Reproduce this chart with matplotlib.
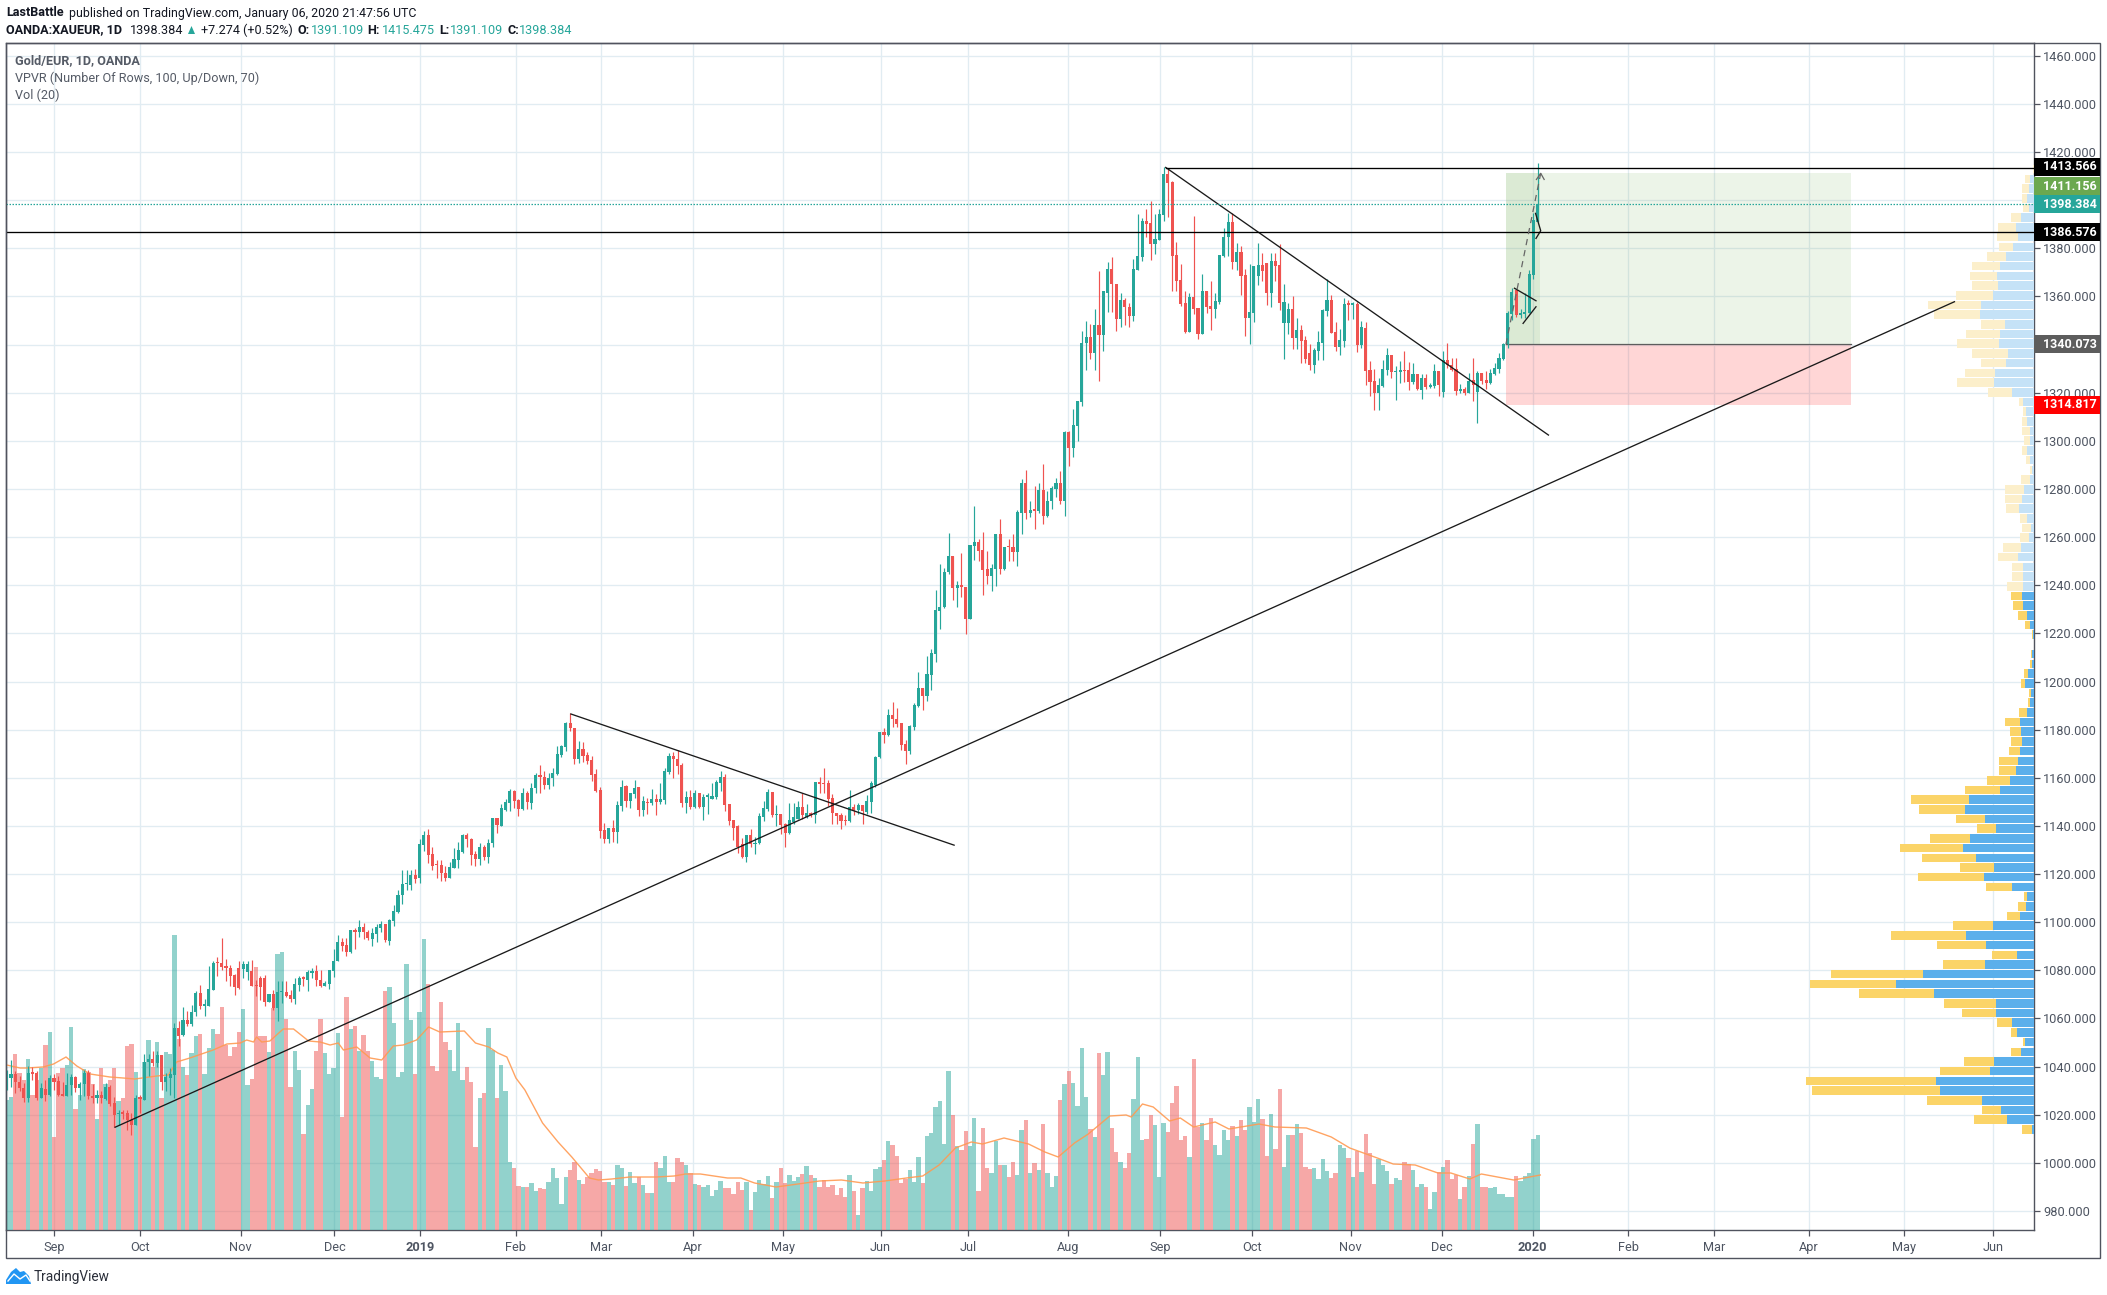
import matplotlib
matplotlib.use("Agg")
import matplotlib.pyplot as plt
import numpy as np
from matplotlib.patches import Polygon, Rectangle

W, H = 2107, 1295
UP = "#26A69A"
DOWN = "#EF5350"
FRAME = "#50535E"
GRID = "#E1ECF2"
TEXT = "#4E5562"

# daily bars
DIRS = "".join([
    "GGRRRGRRGR", "GRRRGGRGGR", "RGRGRRGRRR", "GRGGRGRGGG", "RGRGGRGGGR",
    "RRRRRGGRRR", "RGRGGRRGGR", "GGRRGGGGRR", "GRGRRGGGRG", "GGGGGRGGRR",
    "RRRGGGGRRR", "GRGGRGGGRR", "GRGGRRGGGG", "GRRGRRRRRR", "GRGGRGGRGR",
    "GRGGGRRRGR", "GRGGGGGRRR", "RRGRGGGGRG", "RRGGGRGRGR", "RRRRRRGRGR",
    "GGGGRGRRRR", "GGGRGGGGGG", "RGRRGGRRRG", "GRGRRGGGRG"[:0] + "GRGRRGGRGR", "GRGGGRGRGG",
    "GGRGRGGRRG", "RRGGGRRGGG", "RRRRRGRRGR", "RGGGGRGRRG", "GGRRGRRGGR",
    "GRRRGGGGRR", "GGRGRGRRRG", "GGRGGRRGRG", "RGGRGRRRGR", "GRGRRGGGGG",
    "GRGGGGG",
])

BODY_TOP = [
    1035.9, 1037.0, 1037.0, 1033.7, 1031.2, 1037.3, 1037.6, 1037.3, 1030.9, 1030.8,
    1035.2, 1035.2, 1034.0, 1028.6, 1032.5, 1035.8, 1035.6, 1032.9, 1037.3, 1037.3,
    1027.9, 1028.2, 1028.2, 1031.6, 1031.5, 1024.8, 1020.8, 1021.0, 1020.7, 1017.6,
    1026.9, 1027.2, 1041.9, 1043.3, 1043.3, 1044.8, 1044.9, 1035.5, 1037.0, 1056.1,
    1056.1, 1059.5, 1059.5, 1062.6, 1070.5, 1070.5, 1065.8, 1072.2, 1083.1, 1083.1,
    1083.1, 1081.9, 1081.1, 1078.2, 1081.1, 1082.7, 1082.7, 1079.8, 1074.0, 1076.9,
    1076.9, 1070.3, 1070.3, 1071.1, 1071.1, 1071.1, 1069.9, 1074.4, 1076.8, 1077.1,
    1079.5, 1079.8, 1079.8, 1076.1, 1074.7, 1080.0, 1084.0, 1091.9, 1091.9, 1090.6,
    1096.9, 1096.9, 1098.0, 1098.0, 1096.0, 1095.5, 1098.0, 1099.4, 1099.4, 1101.0,
    1104.8, 1111.4, 1116.0, 1116.0, 1119.7, 1119.7, 1132.4, 1136.1, 1136.1, 1128.2,
    1123.8, 1123.6, 1120.6, 1123.1, 1126.1, 1129.9, 1136.1, 1136.1, 1134.7, 1128.2,
    1131.4, 1131.4, 1133.0, 1143.2, 1143.2, 1147.3, 1149.9, 1154.5, 1154.5, 1150.6,
    1153.5, 1153.5, 1155.9, 1161.0, 1161.0, 1160.5, 1160.0, 1161.9, 1169.7, 1173.2,
    1182.6, 1182.6, 1180.8, 1172.1, 1172.1, 1169.3, 1167.3, 1161.4, 1154.8, 1138.2,
    1139.3, 1139.3, 1148.6, 1156.3, 1156.6, 1153.5, 1155.9, 1156.0, 1150.4, 1150.1,
    1151.0, 1151.0, 1151.0, 1162.7, 1169.0, 1169.0, 1167.9, 1165.2, 1152.2, 1152.2,
    1153.5, 1153.5, 1151.9, 1152.4, 1152.4, 1158.3, 1160.5, 1160.5, 1149.0, 1142.3,
    1140.0, 1132.4, 1136.1, 1136.1, 1133.0, 1144.0, 1147.3, 1154.1, 1154.1, 1144.8,
    1144.8, 1140.7, 1142.3, 1143.7, 1147.9, 1147.9, 1145.2, 1145.2, 1158.3, 1158.3,
    1157.7, 1157.7, 1151.7, 1145.2, 1144.4, 1142.3, 1148.0, 1148.0, 1148.6, 1148.6,
    1150.2, 1157.7, 1168.8, 1179.0, 1179.0, 1186.0, 1186.0, 1184.5, 1182.7, 1174.1,
    1181.6, 1190.3, 1197.4, 1197.4, 1203.2, 1211.8, 1229.8, 1231.0, 1245.6, 1252.2,
    1252.2, 1240.2, 1240.2, 1239.4, 1256.8, 1258.0, 1258.0, 1254.7, 1246.8, 1247.1,
    1261.4, 1261.4, 1256.0, 1256.0, 1256.0, 1270.5, 1282.5, 1282.5, 1271.3, 1271.3,
    1279.6, 1279.6, 1275.0, 1280.5, 1282.5, 1282.5, 1303.7, 1303.7, 1306.6, 1316.5,
    1340.8, 1343.3, 1343.3, 1348.0, 1348.0, 1362.1, 1371.2, 1371.2, 1365.3, 1358.4,
    1358.4, 1355.7, 1371.2, 1376.6, 1391.2, 1391.2, 1390.4, 1383.7, 1394.1, 1410.7,
    1410.7, 1407.5, 1377.1, 1366.7, 1357.1, 1359.7, 1359.7, 1355.0, 1362.1, 1362.1,
    1356.0, 1358.1, 1377.1, 1384.9, 1390.8, 1390.8, 1378.3, 1378.3, 1368.7, 1353.4,
    1372.6, 1372.9, 1373.0, 1373.9, 1374.6, 1374.6, 1372.9, 1357.5, 1354.6, 1354.6,
    1345.9, 1345.9, 1341.7, 1336.6, 1337.6, 1341.0, 1354.3, 1358.4, 1358.4, 1345.1,
    1341.7, 1356.7, 1356.8, 1356.8, 1356.8, 1347.3, 1347.0, 1329.3, 1324.7, 1323.0,
    1329.7, 1335.5, 1335.5, 1329.0, 1329.3, 1329.3, 1329.3, 1327.6, 1327.6, 1326.0,
    1326.0, 1323.0, 1328.9, 1328.9, 1333.4, 1333.4, 1331.6, 1329.7, 1321.4, 1321.4,
    1324.8, 1325.1, 1328.0, 1328.0, 1325.3, 1328.0, 1330.1, 1334.5, 1340.1, 1353.1,
    1362.0, 1362.5, 1353.2, 1353.6, 1369.2, 1391.6, 1398.4,
]

BODY_BOT = [
    1031.8, 1035.4, 1033.4, 1030.9, 1026.8, 1026.8, 1037.0, 1026.8, 1026.8, 1028.3,
    1028.3, 1033.7, 1028.2, 1027.9, 1027.9, 1032.3, 1030.9, 1030.9, 1032.9, 1027.6,
    1026.8, 1026.8, 1026.8, 1026.5, 1024.6, 1020.0, 1020.1, 1020.4, 1017.6, 1015.8,
    1015.8, 1026.5, 1026.2, 1041.7, 1041.5, 1041.5, 1033.8, 1033.6, 1035.1, 1036.6,
    1052.8, 1053.0, 1057.8, 1057.7, 1062.5, 1065.0, 1065.0, 1065.3, 1071.9, 1083.0,
    1081.4, 1080.8, 1077.8, 1073.2, 1072.8, 1080.7, 1079.5, 1073.6, 1073.6, 1073.2,
    1066.9, 1066.9, 1064.3, 1064.3, 1071.0, 1069.4, 1068.2, 1068.2, 1074.0, 1076.4,
    1076.1, 1078.9, 1075.8, 1073.6, 1073.6, 1074.4, 1079.7, 1083.7, 1090.2, 1087.7,
    1087.6, 1095.8, 1095.8, 1095.8, 1093.3, 1093.1, 1095.2, 1097.7, 1092.4, 1092.3,
    1100.6, 1104.3, 1111.1, 1115.8, 1115.6, 1118.1, 1118.2, 1131.9, 1127.8, 1123.4,
    1123.6, 1120.3, 1118.5, 1118.5, 1122.7, 1125.8, 1129.3, 1134.4, 1127.9, 1126.1,
    1126.1, 1127.1, 1127.1, 1133.0, 1140.2, 1140.1, 1146.6, 1149.7, 1150.4, 1146.9,
    1146.9, 1149.9, 1149.7, 1155.9, 1160.3, 1156.9, 1156.9, 1159.9, 1161.4, 1169.3,
    1172.9, 1180.6, 1167.7, 1167.7, 1169.0, 1167.0, 1161.2, 1154.5, 1137.9, 1134.4,
    1134.4, 1137.5, 1137.5, 1148.3, 1150.4, 1150.4, 1153.1, 1146.6, 1146.6, 1149.5,
    1149.4, 1149.9, 1149.9, 1150.6, 1162.4, 1167.9, 1164.9, 1149.4, 1149.4, 1148.0,
    1148.0, 1148.0, 1148.0, 1152.2, 1151.3, 1152.2, 1158.0, 1148.6, 1142.0, 1139.3,
    1131.2, 1127.2, 1127.2, 1132.4, 1132.6, 1132.8, 1143.7, 1146.9, 1144.4, 1144.5,
    1140.2, 1137.2, 1137.2, 1141.6, 1143.0, 1144.4, 1143.9, 1144.7, 1144.7, 1157.3,
    1157.4, 1151.3, 1145.2, 1144.1, 1142.0, 1142.0, 1141.9, 1146.2, 1146.5, 1146.2,
    1145.9, 1149.9, 1157.0, 1168.6, 1177.8, 1177.6, 1184.3, 1182.4, 1173.7, 1171.3,
    1171.2, 1181.3, 1189.9, 1194.1, 1193.8, 1202.8, 1211.5, 1229.5, 1230.8, 1245.3,
    1238.9, 1238.9, 1239.1, 1226.1, 1226.1, 1256.4, 1254.3, 1246.5, 1243.9, 1243.9,
    1246.8, 1246.7, 1246.7, 1255.7, 1253.9, 1253.9, 1270.2, 1270.2, 1270.2, 1271.0,
    1271.0, 1268.8, 1268.8, 1274.8, 1280.0, 1275.0, 1275.0, 1297.1, 1297.1, 1306.2,
    1316.1, 1340.8, 1336.3, 1336.3, 1344.0, 1344.0, 1361.5, 1365.3, 1350.5, 1350.5,
    1355.6, 1351.9, 1351.9, 1371.0, 1376.4, 1390.2, 1381.8, 1381.8, 1383.4, 1393.8,
    1407.3, 1376.8, 1366.4, 1356.8, 1345.1, 1345.1, 1354.6, 1344.2, 1344.2, 1355.7,
    1354.6, 1354.6, 1357.7, 1376.8, 1384.5, 1374.3, 1374.3, 1368.5, 1350.9, 1350.9,
    1353.2, 1368.5, 1370.4, 1361.3, 1361.5, 1372.6, 1357.1, 1348.8, 1348.8, 1342.6,
    1342.6, 1341.3, 1334.1, 1331.4, 1331.5, 1337.2, 1340.8, 1353.9, 1344.6, 1339.0,
    1339.0, 1341.5, 1356.6, 1356.6, 1339.8, 1339.7, 1329.0, 1324.4, 1319.9, 1319.9,
    1322.8, 1329.4, 1328.6, 1328.7, 1328.7, 1329.0, 1324.4, 1324.4, 1321.4, 1321.1,
    1322.2, 1322.2, 1322.8, 1323.0, 1320.3, 1331.6, 1329.4, 1320.7, 1320.7, 1320.0,
    1319.7, 1323.3, 1320.3, 1324.8, 1323.9, 1323.9, 1327.6, 1329.7, 1334.1, 1339.8,
    1352.8, 1352.1, 1352.3, 1352.9, 1353.2, 1368.9, 1391.1,
]

HIGHS = [
    1038.7, 1042.6, 1038.3, 1035.9, 1033.1, 1040.1, 1039.8, 1038.0, 1033.1, 1034.5,
    1036.6, 1037.0, 1035.9, 1033.6, 1037.3, 1037.0, 1035.9, 1033.8, 1038.7, 1038.7,
    1032.9, 1030.4, 1029.8, 1033.1, 1032.5, 1027.3, 1022.0, 1022.0, 1022.0, 1020.7,
    1028.3, 1028.3, 1045.2, 1045.3, 1046.6, 1046.3, 1044.9, 1037.3, 1039.4, 1058.1,
    1059.0, 1064.7, 1063.3, 1065.7, 1071.6, 1074.0, 1068.1, 1081.9, 1083.7, 1085.5,
    1093.4, 1084.8, 1082.3, 1078.6, 1083.7, 1083.7, 1083.7, 1084.4, 1076.1, 1077.7,
    1078.0, 1070.3, 1071.9, 1075.4, 1075.4, 1075.4, 1071.9, 1076.8, 1077.7, 1077.7,
    1080.0, 1080.9, 1082.3, 1080.0, 1075.4, 1080.2, 1089.0, 1094.8, 1093.4, 1093.4,
    1096.9, 1097.6, 1100.7, 1099.6, 1096.9, 1097.6, 1099.1, 1100.3, 1099.4, 1101.3,
    1107.2, 1113.2, 1121.8, 1121.8, 1121.8, 1122.1, 1134.4, 1137.9, 1138.9, 1131.4,
    1125.8, 1125.8, 1123.4, 1125.0, 1131.0, 1133.5, 1136.5, 1136.9, 1135.1, 1129.6,
    1132.8, 1132.1, 1134.4, 1143.4, 1143.2, 1149.0, 1151.0, 1155.2, 1154.9, 1151.0,
    1155.9, 1154.5, 1157.7, 1161.9, 1165.2, 1162.8, 1161.9, 1164.2, 1173.2, 1173.5,
    1183.2, 1186.8, 1180.8, 1175.3, 1174.9, 1170.7, 1169.0, 1163.8, 1156.3, 1141.4,
    1139.3, 1142.5, 1150.4, 1159.1, 1156.9, 1153.5, 1158.9, 1156.3, 1152.4, 1151.7,
    1155.2, 1153.1, 1158.0, 1164.2, 1170.2, 1170.7, 1171.5, 1166.0, 1154.5, 1154.9,
    1154.9, 1153.8, 1153.1, 1153.5, 1158.0, 1159.1, 1162.7, 1161.4, 1149.0, 1142.3,
    1140.2, 1135.1, 1136.1, 1138.9, 1135.5, 1145.2, 1150.4, 1155.2, 1154.1, 1148.6,
    1144.8, 1141.1, 1149.4, 1149.4, 1150.4, 1153.8, 1149.2, 1145.8, 1158.3, 1160.2,
    1163.9, 1159.1, 1153.1, 1145.5, 1145.5, 1144.4, 1154.9, 1149.1, 1149.7, 1148.8,
    1152.8, 1158.7, 1169.0, 1179.0, 1180.8, 1188.4, 1191.5, 1188.9, 1182.7, 1175.8,
    1181.9, 1191.0, 1204.0, 1197.4, 1210.7, 1213.5, 1238.1, 1248.9, 1247.1, 1261.8,
    1252.2, 1241.8, 1253.3, 1239.4, 1256.8, 1273.0, 1259.2, 1262.2, 1254.3, 1248.9,
    1261.4, 1267.6, 1256.0, 1259.3, 1261.4, 1271.3, 1284.2, 1287.9, 1275.0, 1281.3,
    1282.5, 1290.4, 1279.2, 1281.3, 1284.6, 1287.5, 1304.1, 1304.1, 1313.3, 1316.7,
    1345.6, 1349.8, 1348.4, 1354.6, 1370.5, 1362.1, 1374.3, 1376.5, 1365.3, 1361.5,
    1359.2, 1357.1, 1375.4, 1394.1, 1392.7, 1396.2, 1399.6, 1394.1, 1396.4, 1413.9,
    1413.1, 1407.9, 1382.6, 1373.3, 1362.2, 1361.5, 1393.4, 1355.0, 1369.2, 1362.1,
    1366.4, 1361.5, 1377.1, 1388.6, 1394.5, 1394.8, 1382.0, 1380.9, 1371.2, 1373.3,
    1372.6, 1382.3, 1378.2, 1374.0, 1378.2, 1378.2, 1381.6, 1365.3, 1357.4, 1360.2,
    1351.2, 1348.0, 1343.5, 1340.1, 1338.7, 1345.6, 1354.6, 1367.4, 1360.4, 1349.5,
    1346.3, 1359.5, 1358.5, 1357.7, 1357.7, 1349.8, 1349.5, 1333.2, 1329.7, 1326.2,
    1333.6, 1338.7, 1335.5, 1331.1, 1333.2, 1337.3, 1332.7, 1332.2, 1327.6, 1327.6,
    1327.6, 1324.1, 1331.8, 1328.9, 1337.3, 1340.5, 1334.5, 1334.5, 1323.5, 1322.5,
    1328.0, 1334.5, 1329.0, 1328.0, 1329.0, 1329.7, 1332.5, 1336.6, 1340.8, 1353.9,
    1363.6, 1362.5, 1354.6, 1361.5, 1371.0, 1394.8, 1415.5,
]

LOWS = [
    1030.4, 1031.5, 1029.0, 1029.7, 1025.1, 1025.1, 1034.3, 1026.0, 1026.8, 1025.5,
    1027.6, 1030.1, 1027.9, 1027.6, 1027.9, 1028.3, 1029.3, 1026.2, 1027.9, 1026.5,
    1024.8, 1024.8, 1024.8, 1026.0, 1023.5, 1015.1, 1015.8, 1018.2, 1013.8, 1011.7,
    1015.8, 1020.7, 1026.2, 1035.9, 1040.1, 1039.8, 1030.4, 1029.7, 1028.3, 1026.9,
    1048.7, 1052.5, 1056.7, 1056.7, 1060.9, 1063.9, 1061.1, 1065.3, 1071.9, 1077.8,
    1080.0, 1075.7, 1073.6, 1069.9, 1072.2, 1076.6, 1076.1, 1073.6, 1069.4, 1067.8,
    1065.3, 1066.9, 1063.6, 1059.0, 1066.4, 1068.9, 1066.7, 1066.1, 1071.2, 1073.3,
    1071.2, 1076.8, 1073.3, 1073.0, 1073.3, 1072.2, 1077.2, 1083.7, 1088.1, 1086.0,
    1087.2, 1089.0, 1093.8, 1093.0, 1092.7, 1089.9, 1091.6, 1095.8, 1091.6, 1090.6,
    1098.5, 1104.0, 1107.7, 1113.2, 1113.5, 1116.3, 1116.4, 1129.6, 1124.7, 1121.7,
    1118.5, 1117.1, 1117.1, 1118.2, 1122.7, 1122.4, 1128.9, 1131.4, 1123.6, 1123.4,
    1123.6, 1125.7, 1124.7, 1131.2, 1136.9, 1140.0, 1146.2, 1146.2, 1147.3, 1144.1,
    1146.6, 1146.9, 1147.2, 1153.5, 1153.5, 1155.2, 1155.5, 1156.6, 1161.0, 1168.6,
    1171.1, 1179.4, 1165.6, 1166.3, 1166.6, 1165.6, 1158.7, 1154.1, 1135.1, 1132.8,
    1132.8, 1133.3, 1132.8, 1146.2, 1148.0, 1147.3, 1151.7, 1144.1, 1144.1, 1145.1,
    1148.6, 1144.4, 1149.0, 1149.0, 1161.4, 1160.0, 1161.7, 1148.0, 1145.5, 1146.9,
    1147.6, 1147.6, 1142.5, 1144.8, 1151.3, 1151.3, 1154.5, 1146.2, 1140.2, 1134.2,
    1128.9, 1126.8, 1125.0, 1131.4, 1128.2, 1132.4, 1142.0, 1146.2, 1143.9, 1140.0,
    1136.8, 1131.2, 1136.5, 1140.7, 1143.0, 1143.0, 1143.4, 1143.9, 1141.1, 1153.5,
    1153.5, 1148.3, 1140.9, 1140.7, 1138.6, 1140.2, 1141.6, 1144.4, 1144.8, 1140.7,
    1144.8, 1145.2, 1156.3, 1168.4, 1174.3, 1177.4, 1181.2, 1181.0, 1171.6, 1165.8,
    1170.0, 1179.9, 1189.6, 1188.2, 1192.1, 1196.6, 1208.3, 1221.9, 1230.5, 1244.8,
    1233.7, 1230.8, 1235.3, 1219.8, 1226.1, 1250.6, 1249.9, 1236.0, 1240.6, 1237.4,
    1239.8, 1244.8, 1246.4, 1250.2, 1250.2, 1248.1, 1261.4, 1267.6, 1268.5, 1263.5,
    1270.2, 1265.5, 1268.5, 1271.7, 1276.7, 1273.8, 1268.8, 1289.6, 1293.3, 1300.0,
    1314.5, 1329.4, 1333.8, 1329.4, 1324.8, 1337.3, 1353.5, 1353.5, 1345.6, 1347.3,
    1348.1, 1347.4, 1349.8, 1371.0, 1374.7, 1384.8, 1375.1, 1377.5, 1383.4, 1391.3,
    1393.0, 1362.2, 1362.2, 1356.0, 1344.6, 1345.1, 1352.5, 1342.2, 1344.2, 1353.2,
    1345.9, 1351.2, 1356.7, 1376.5, 1376.8, 1371.5, 1371.0, 1360.6, 1343.6, 1340.4,
    1349.4, 1364.6, 1366.4, 1356.3, 1355.7, 1366.3, 1354.3, 1334.1, 1344.5, 1338.3,
    1338.3, 1332.2, 1332.2, 1329.4, 1328.0, 1333.6, 1333.6, 1351.9, 1344.6, 1337.3,
    1335.5, 1339.1, 1350.2, 1350.5, 1337.0, 1338.7, 1323.0, 1318.6, 1312.7, 1312.7,
    1322.5, 1327.2, 1326.1, 1316.9, 1324.1, 1324.4, 1321.1, 1323.5, 1321.1, 1317.2,
    1321.4, 1322.1, 1322.1, 1318.6, 1318.2, 1330.4, 1329.0, 1318.9, 1319.7, 1318.9,
    1319.7, 1316.5, 1307.5, 1323.5, 1321.7, 1323.5, 1327.2, 1328.0, 1333.6, 1338.4,
    1350.2, 1351.6, 1351.2, 1351.2, 1353.0, 1367.4, 1391.1,
]

VOLUMES = [
    130, 133, 176, 157, 150, 171, 135, 150, 162, 185,
    198, 93, 157, 162, 165, 203, 121, 135, 161, 158,
    146, 111, 162, 146, 150, 162, 129, 132, 184, 186,
    158, 131, 168, 190, 163, 188, 132, 178, 176, 295,
    191, 163, 155, 177, 194, 196, 156, 182, 201, 196,
    223, 185, 174, 183, 198, 221, 145, 151, 263, 194,
    194, 178, 222, 276, 278, 211, 143, 179, 160, 96,
    125, 141, 179, 211, 177, 156, 162, 197, 113, 233,
    201, 204, 179, 195, 179, 169, 153, 151, 239, 243,
    207, 153, 158, 266, 210, 156, 218, 291, 246, 164,
    159, 228, 188, 180, 159, 207, 150, 163, 148, 83,
    132, 137, 202, 180, 132, 165, 139, 68, 62, 44,
    43, 43, 47, 39, 42, 41, 48, 62, 52, 26,
    53, 60, 68, 50, 46, 53, 57, 61, 59, 48,
    48, 45, 65, 62, 44, 58, 47, 53, 45, 37,
    37, 68, 62, 74, 48, 48, 72, 68, 65, 57,
    46, 45, 43, 45, 34, 40, 49, 42, 42, 36,
    48, 40, 48, 20, 38, 50, 46, 54, 32, 48,
    62, 47, 55, 49, 53, 56, 64, 55, 52, 43,
    50, 43, 45, 35, 42, 33, 55, 39, 15, 42,
    49, 39, 61, 63, 70, 89, 85, 74, 47, 51,
    60, 48, 73, 47, 94, 97, 123, 129, 86, 159,
    115, 84, 80, 99, 84, 112, 39, 102, 62, 57,
    89, 65, 65, 53, 68, 55, 100, 110, 57, 67,
    60, 106, 57, 43, 54, 130, 146, 159, 147, 124,
    182, 133, 101, 93, 177, 155, 178, 102, 78, 68,
    62, 77, 131, 173, 90, 91, 115, 105, 53, 107,
    98, 127, 144, 90, 94, 73, 171, 103, 107, 90,
    112, 85, 75, 100, 90, 104, 94, 110, 100, 123,
    108, 131, 111, 74, 116, 81, 141, 63, 95, 95,
    106, 97, 63, 61, 62, 51, 71, 59, 52, 57,
    85, 82, 72, 53, 79, 58, 96, 77, 46, 71,
    65, 59, 46, 52, 50, 68, 66, 60, 43, 46,
    43, 21, 38, 58, 63, 70, 51, 55, 31, 43,
    54, 86, 106, 43, 43, 42, 43, 36, 36, 33,
    33, 54, 49, 54, 57, 91, 95,
]

# Vol (20) line, read at its turning points
MA_BARS = [
    0, 3.1, 4.6, 8.5, 10.9, 13.8, 16.3, 19.4, 24, 27.1, 29.8, 34.9, 37.6, 39.5, 42.6,
    48, 51.2, 54.3, 55.8, 57.4, 58.1, 59.3, 61.2, 64.3, 66.7, 70.2, 72.9, 75.2, 77.1,
    78.3, 81.4, 84.5, 87.2, 89.9, 92.2, 95.3, 98.1, 100.7, 106.4, 109, 112.1, 114.2,
    116.3, 118.4, 120.5, 124.6, 128.2, 131.4, 135.5, 137.6, 140.7, 144.9, 148, 151.1,
    155.2, 157.8, 161.3, 167.6, 170.7, 173.9, 178.9, 184, 189, 194.1, 199.1, 204.2,
    209.2, 213, 216.8, 220.6, 224.3, 226.9, 231.9, 237.6, 241.4, 244.5, 248.3, 251.5,
    256.5, 260.3, 261.5, 264.1, 266.6, 270.4, 272.9, 276, 281, 284.2, 291.2, 294.9,
    302.2, 308, 312.3, 318.7, 322.4, 327.5, 332.8, 335.8, 340.2, 342.9, 350.4, 356.6,
]
MA_VALUES = [
    165, 162, 162, 163, 166, 173, 164, 156, 153, 152, 151, 154, 155, 168, 172,
    180, 186, 187, 190, 188, 193, 188, 189, 201, 201, 189, 188, 185, 187,
    180, 183, 172, 170, 184, 185, 190, 203, 198, 199, 187, 183, 177,
    173, 152, 140, 107, 88, 73, 52, 50, 51, 53, 53, 53,
    54, 56, 56, 52, 52, 47, 43, 46, 49, 50, 47, 49,
    52, 54, 65, 82, 88, 86, 92, 86, 78, 73, 87, 96,
    114, 115, 113, 126, 123, 109, 112, 103, 108, 101, 106, 103,
    102, 93, 82, 72, 66, 65, 57, 57, 51, 56, 50, 55,
]

# visible range volume profile, rows from the bottom up
VP_UP = [
    2.3, 27.3, 32.7, 51.7, 94.3, 98.3, 44.3, 40, 13.3, 9.3,
    17.3, 22.3, 38.3, 38.3, 100, 138.3, 110.7, 49, 17.3, 47.7,
    68.3, 41, 14.3, 8.3, 6.7, 21.7, 50, 40, 58.3, 71.3,
    64.3, 37.7, 49, 69.3, 64.7, 33.7, 24.3, 18.3, 15.7, 14,
    11.7, 13.3, 14.3, 6.7, 4, 2.7, 9.3, 6.3, 2.3, 1.7,
    0, 1, 4.3, 7.3, 11.3, 12.3, 11.3, 10.7, 11, 16.3,
    12.7, 5.3, 3.3, 7.3, 15, 12.3, 10.3, 4.3, 1.7, 4.3,
    6.7, 4.3, 4.3, 6.8, 8, 11.2, 22.4, 40.4, 38.8, 28,
    26.4, 35.2, 34, 28.8, 54.4, 52.8, 40.8, 35.6, 36.8, 34,
    28, 20.8, 16, 18, 12.8, 4.8, 7.2, 5.2, 4.4, 0.4,
]
VP_DOWN = [
    9.3, 32.7, 19, 55, 128, 129.7, 50, 30.3, 10, 1.7,
    6, 15, 33.3, 51.3, 74.7, 86, 92, 41.7, 25, 49.7,
    75, 40.3, 12.7, 8, 3.7, 26.7, 66.3, 34.3, 53.7, 62.7,
    40, 19, 28.7, 46, 58.3, 35.7, 23, 17, 19.7, 11,
    11, 11, 15, 8.7, 2.3, 2.7, 4, 4, 2, 1,
    0, 1.3, 5, 9, 10, 11, 16, 11.3, 11.3, 20,
    18.7, 9, 9, 7, 13.3, 16.7, 19, 9, 2.7, 3.7,
    5.7, 5.7, 8, 4.8, 2.8, 3.6, 23.2, 36.4, 30, 24.8,
    35.6, 41.6, 34, 24.4, 45.6, 53.2, 37.6, 26.4, 26.8, 28,
    18.8, 14, 20.8, 17.6, 10, 6, 4.8, 6.4, 4.4, 0.8,
]
VP_SOLID_ROWS = 56
VP_FIRST_PRICE = 1013.9
VP_ROW_STEP = 4.03

PRICE_TICKS = list(range(980, 1461, 20))
TIME_TICKS = [11.1, 31.1, 54.4, 76.2, 96.1, 118.4, 138.3, 159.5, 180.4, 203.2, 223.6, 246.7,
              268.2, 289.5, 312.5, 333.7, 354.8, 377, 397, 419, 441.1, 461.9]
TIME_LABELS = ["Sep", "Oct", "Nov", "Dec", "2019", "Feb", "Mar", "Apr", "May", "Jun", "Jul", "Aug",
               "Sep", "Oct", "Nov", "Dec", "2020", "Feb", "Mar", "Apr", "May", "Jun"]

PRICE_LAST = 1398.384
LEVEL_TOP = 1413.566
LEVEL_MID = 1386.576
TARGET = 1411.156
ENTRY = 1340.073
STOP = 1314.817

plt.rcParams["font.family"] = "Roboto"

fig = plt.figure(figsize=(W / 100, H / 100), dpi=100, facecolor="white")
ax = fig.add_axes([6 / W, 1 - 1230 / H, 2028 / W, 1187 / H])
ax_vol = ax.twinx()
ax_px = ax.twinx()
XLIM = (-0.16, 471.4)
YLIM = (972.1, 1465.3)
PX_PER_BAR = 4.3

x = np.arange(len(BODY_TOP))
up = np.array([d == "G" for d in DIRS])
top = np.array(BODY_TOP)
bot = np.array(BODY_BOT)
assert len(DIRS) == len(top) == len(bot) == len(HIGHS) == len(LOWS) == len(VOLUMES)

# grid and price / time scales
ax.set_xlim(*XLIM)
ax.set_ylim(*YLIM)
ax.set_yticks(PRICE_TICKS)
ax.set_yticklabels([f"{p:.3f}" for p in PRICE_TICKS])
ax.yaxis.tick_right()
ax.set_xticks(TIME_TICKS)
ax.set_xticklabels(TIME_LABELS)
for lab in ax.get_xticklabels():
    if lab.get_text() in ("2019", "2020"):
        lab.set_fontweight("bold")
ax.grid(color=GRID, lw=0.95)
ax.set_axisbelow(True)
ax.tick_params(axis="both", length=4.4, width=0.9, color=FRAME, labelcolor=TEXT, labelsize=9.2, pad=2.2)
ax.tick_params(axis="x", pad=3.6)
for s in ax.spines.values():
    s.set_color(FRAME)
    s.set_linewidth(1.0)

# volume
ax_vol.set_ylim(0, 1187)
ax_vol.axis("off")
vol_cols = [(0.149, 0.651, 0.604, 0.5) if u else (0.937, 0.325, 0.314, 0.5) for u in up]
ax_vol.bar(x, VOLUMES, width=1.0, color=vol_cols, linewidth=0)
ax_vol.plot(MA_BARS, MA_VALUES, color="#FF9A52", lw=1.0, alpha=0.9)

ax_px.set_ylim(*YLIM)
ax_px.set_xlim(*XLIM)
ax_px.axis("off")

# long position box
BOX_L, BOX_R, BOX_NOW = 348.6, 428.9, 356.6
ax_px.fill_between([BOX_L, BOX_R], ENTRY, TARGET, color="#6BA84F", alpha=0.125, lw=0)
ax_px.fill_between([BOX_L, BOX_NOW], ENTRY, TARGET, color="#6BA84F", alpha=0.125, lw=0)
ax_px.fill_between([BOX_L, BOX_R], STOP, ENTRY, color="#FF0000", alpha=0.16, lw=0)
ax_px.plot([BOX_L, BOX_R], [ENTRY, ENTRY], color="#5D5D5D", lw=0.9)

# candles
cols = [UP if u else DOWN for u in up]
ax_px.vlines(x, LOWS, HIGHS, colors=cols, lw=0.85)
ax_px.bar(x, np.maximum(top - bot, 0.5), bottom=bot, width=0.72, color=cols, linewidth=0)

# drawings
for xs, ys in [
    ([25.2, 452.9], [1014.8, 1357.8]),
    ([131.2, 220.3], [1186.5, 1132.0]),
    ([269.5, 358.5], [1413.6, 1302.4]),
    ([350.6, 355.6], [1363.4, 1358.2]),
    ([352.6, 355.6], [1348.8, 1355.7]),
    ([355.5, 356.7, 355.6], [1394.5, 1387.3, 1384.1]),
]:
    ax_px.plot(xs, ys, color="#1A1A1A", lw=0.95)
ax_px.plot([269.5, XLIM[1]], [LEVEL_TOP, LEVEL_TOP], color="black", lw=0.95)
ax_px.axhline(LEVEL_MID, color="black", lw=0.95)
ax_px.axhline(PRICE_LAST, color=UP, lw=0.9, ls=(0, (1.2, 1.2)))
ax_px.plot([348.6, 356.7], [ENTRY, TARGET], color="#666666", lw=0.9, ls=(0, (5, 4)))
ax_px.plot([355.7, 356.7, 357.5], [1408.6, TARGET, 1408.6], color="#666666", lw=0.9)

# volume profile sits against the price scale
up_w = np.array(VP_UP) / PX_PER_BAR
down_w = np.array(VP_DOWN) / PX_PER_BAR
rows = VP_FIRST_PRICE + VP_ROW_STEP * np.arange(len(VP_UP))
solid = np.arange(len(VP_UP)) < VP_SOLID_ROWS
ax_px.barh(rows, up_w, left=XLIM[1] - up_w, height=3.55, linewidth=0,
           color=["#5BAFEB" if s else "#C5E2F7" for s in solid])
ax_px.barh(rows, down_w, left=XLIM[1] - up_w - down_w, height=3.55, linewidth=0,
           color=["#FBD468" if s else "#FCEFCB" for s in solid])

# page chrome in pixel coordinates
pg = fig.add_axes([0, 0, 1, 1], facecolor="none")
pg.set_xlim(0, W)
pg.set_ylim(H, 0)
pg.axis("off")
pg.add_patch(Rectangle((6, 43), 2094, 1215, fc="none", ec=FRAME, lw=1.0))


def put(px, py, s, color="#131722", weight="normal", size=9.1, ha="left"):
    pg.text(px, py, s, color=color, fontweight=weight, fontsize=size, ha=ha, va="center")


put(6, 13, "LastBattle", weight="bold")
put(69, 13, "published on TradingView.com, January 06, 2020 21:47:56 UTC", size=8.95)
put(6, 30, "OANDA:XAUEUR, 1D", weight="bold")
put(130, 30, "1398.384")
pg.add_patch(Polygon([(188, 34), (195, 34), (191.5, 26)], fc=UP, lw=0))
put(201, 30, "+7.274 (+0.52%)")
for px, lab, vx, val in [(297, "O:", 311, "1391.109"), (367, "H:", 382, "1415.475"),
                         (439, "L:", 449.5, "1391.109"), (507, "C:", 519, "1398.384")]:
    put(px, 30, lab, weight="bold")
    put(vx, 30, val, color=UP)

put(15, 61, "Gold/EUR, 1D, OANDA", color="#555B66", weight="bold")
put(15, 78, "VPVR (Number Of Rows, 100, Up/Down, 70)", color="#555B66")
put(15, 95, "Vol (20)", color="#555B66")

for cy, lab, fc in [(167, "1413.566", "black"), (186, "1411.156", "#6BA84F"),
                    (204, "1398.384", UP), (232, "1386.576", "black"),
                    (344, "1340.073", "#5D5D5D"), (405, "1314.817", "#FF0000")]:
    pg.add_patch(Rectangle((2034, cy - 9), 66, 18, fc=fc, lw=0))
    put(2043, cy, lab, color="white", weight="bold", size=9.0)

# TradingView logo
pg.add_patch(Polygon([(6, 1284), (6, 1280), (11, 1272), (16, 1268), (20, 1272), (24, 1271),
                      (29, 1276), (31, 1284)], fc="#2196F3", lw=0))
pg.plot([8, 14, 20, 26, 30], [1281, 1274, 1279, 1275, 1281], color="white", lw=1.0)
put(34, 1277, "TradingView", color="#2A2E39", size=9.8)

fig.savefig("out.png", dpi=100, facecolor="white")
